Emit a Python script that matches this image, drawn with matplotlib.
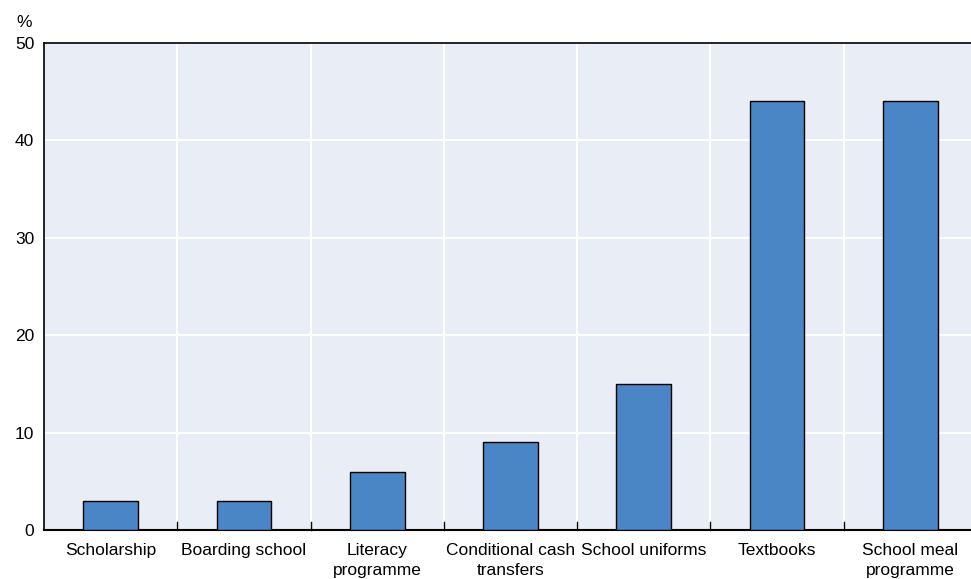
import numpy as np
import matplotlib
matplotlib.use("Agg")
import matplotlib.pyplot as plt

plt.rcParams['font.family'] = ['Liberation Sans Narrow', 'Liberation Sans', 'DejaVu Sans']

categories = ["Scholarship", "Boarding school", "Literacy\nprogramme", "Conditional cash\ntransfers",
              "School uniforms", "Textbooks", "School meal\nprogramme"]
values = [3, 3, 6, 9, 15, 44, 44]
yticks = [0, 10, 20, 30, 40, 50]

fig = plt.figure(figsize=(9.71, 5.79), dpi=100)
ax = fig.add_axes([0.0453, 0.0846, 0.9547, 0.8411])
ax.set_facecolor('#e9edf6')

x = np.arange(len(categories))
ax.bar(x, values, width=0.41, color='#4a86c5', edgecolor='black', linewidth=1.0, zorder=3)

ax.set_xlim(-0.5, 6.455)
ax.set_ylim(0, 50)
ax.set_yticks(yticks)
ax.set_yticklabels([str(v) for v in yticks], fontsize=12.5)
ax.tick_params(axis='y', length=0, pad=7)
ax.set_xticks(x)
ax.set_xticklabels(categories, fontsize=12.5, linespacing=1.45, va='top')
ax.tick_params(axis='x', length=0, pad=9)

# white grid lines
for v in yticks[1:-1]:
    ax.axhline(v, color='white', linewidth=1.5, zorder=1)
for b in np.arange(0.5, 6.5, 1.0):
    ax.axvline(b, color='white', linewidth=1.5, zorder=1)
    ax.plot([b, b], [0, 0.8], color='black', linewidth=1.0, zorder=4, clip_on=False)

ax.spines['right'].set_visible(False)
for s in ['left', 'top', 'bottom']:
    ax.spines[s].set_color('black')
ax.spines['bottom'].set_linewidth(1.5)
ax.spines['left'].set_linewidth(1.2)
ax.spines['top'].set_linewidth(1.2)

fig.text(0.025, 0.962, '%', fontsize=12.5, ha='center', va='center')

fig.savefig('out.png', dpi=100)
